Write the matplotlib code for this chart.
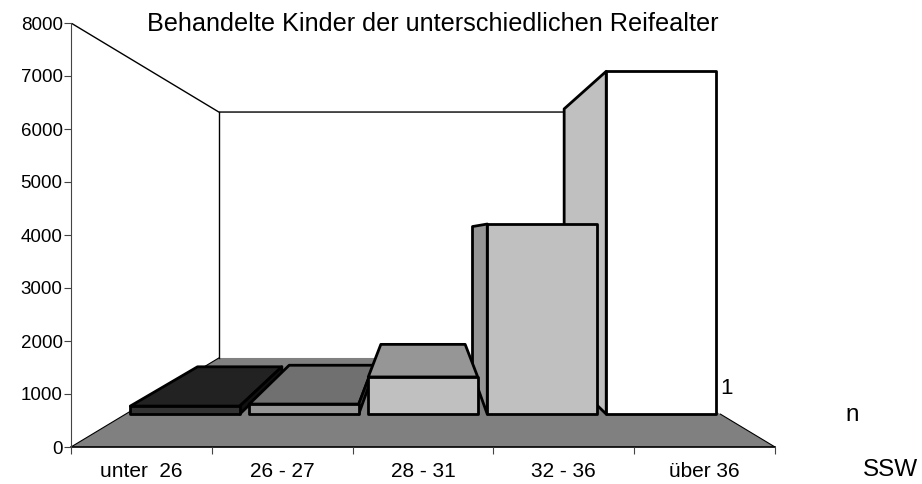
import numpy as np
from matplotlib import pyplot as plt
from matplotlib.patches import Polygon

plt.rcParams['font.family'] = ['Liberation Sans', 'DejaVu Sans']

title = "Behandelte Kinder der unterschiedlichen Reifealter"
categories = ["unter  26", "26 - 27", "28 - 31", "32 - 36", "über 36"]
values = [180, 225, 830, 4245, 7655]
front_colors = ["#333333", "#969696", "#c0c0c0", "#c0c0c0", "#ffffff"]
side_colors = ["#111111", "#555555", "#969696", "#969696", "#c0c0c0"]
top_colors = ["#222222", "#707070", "#969696", "#969696", "#c0c0c0"]
y_ticks = [0, 1000, 2000, 3000, 4000, 5000, 6000, 7000, 8000]

# depth scale of the fake perspective
S_BACK = 0.58
S_BAR_FRONT = 0.845
S_BAR_BACK = 0.651
BAR_W = 0.92
XC = len(categories) / 2
YC = 4000
YMAX = 8000

def project(x, v, s):
    return (XC + (x - XC) * s, YC + (v - YC) * s)

def face(ax, pts, color, lw=2.0, z=2):
    ax.add_patch(Polygon(pts, closed=True, facecolor=color, edgecolor="black",
                         linewidth=lw, joinstyle="round", zorder=z, clip_on=False))

fig = plt.figure(figsize=(9.22, 4.84), dpi=100)
ax = fig.add_axes([71 / 922, 1 - 447 / 484, 704 / 922, 424 / 484])
ax.set_xlim(0, len(categories))
ax.set_ylim(0, YMAX)

n = len(categories)
# floor
ax.add_patch(Polygon([project(0, 0, 1), project(n, 0, 1), project(n, 0, S_BACK), project(0, 0, S_BACK)],
                     closed=True, facecolor="#808080", edgecolor="none", zorder=1))
# walls
ax.plot(*zip(project(0, YMAX, 1), project(0, YMAX, S_BACK), project(n, YMAX, S_BACK)), color="black", lw=1.0, zorder=1)
ax.plot(*zip(project(0, YMAX, S_BACK), project(0, 0, S_BACK)), color="black", lw=1.0, zorder=1)
ax.plot(*zip(project(0, 0, 1), project(0, 0, S_BACK)), color="black", lw=0.8, zorder=1)
ax.plot(*zip(project(n, 0, 1), project(n, 0, S_BAR_FRONT)), color="black", lw=0.8, zorder=1)

# bars, outer ones first so the inner ones sit on top
order = [0, 4, 1, 3, 2]
for z, i in enumerate(order):
    x0 = i + 0.5 - BAR_W / 2
    x1 = i + 0.5 + BAR_W / 2
    v = values[i]
    sf, sb = S_BAR_FRONT, S_BAR_BACK
    zz = 2 + z
    if v < YC:
        face(ax, [project(x0, v, sf), project(x1, v, sf), project(x1, v, sb), project(x0, v, sb)], top_colors[i], z=zz)
    if x1 < XC:
        face(ax, [project(x1, 0, sf), project(x1, v, sf), project(x1, v, sb), project(x1, 0, sb)], side_colors[i], z=zz)
    if x0 > XC:
        face(ax, [project(x0, 0, sf), project(x0, v, sf), project(x0, v, sb), project(x0, 0, sb)], side_colors[i], z=zz)
    face(ax, [project(x0, 0, sf), project(x1, 0, sf), project(x1, v, sf), project(x0, v, sf)], front_colors[i], z=zz)

for s in ["top", "right"]:
    ax.spines[s].set_visible(False)
ax.spines["left"].set_linewidth(0.8)
ax.spines["left"].set_color("#444444")
ax.spines["bottom"].set_linewidth(1.2)
ax.spines["bottom"].set_color("black")
ax.spines["bottom"].set_zorder(1.5)

ax.set_yticks(y_ticks)
ax.tick_params(axis="y", labelsize=13.5, length=5, width=0.8, color="#444444", pad=1)
ax.set_xticks(range(n + 1))
ax.set_xticklabels([])
ax.tick_params(axis="x", which="major", length=5, width=0.8, color="#444444")
ax.set_xticks(np.arange(n) + 0.5, categories, minor=True)
ax.tick_params(axis="x", which="minor", length=0, labelsize=15, pad=11)
ax.patch.set_alpha(0)

fig.text(433 / 922, 1 - 24 / 484, title, fontsize=18.2, ha="center", va="center")
fig.text(720 / 922, 1 - 389 / 484, "1", fontsize=16, ha="left", va="center")
fig.text(852 / 922, 1 - 415 / 484, "n", fontsize=17.5, ha="center", va="center")
fig.text(890 / 922, 1 - 470 / 484, "SSW", fontsize=17.5, ha="center", va="center")

fig.savefig("out.png", dpi=100)
